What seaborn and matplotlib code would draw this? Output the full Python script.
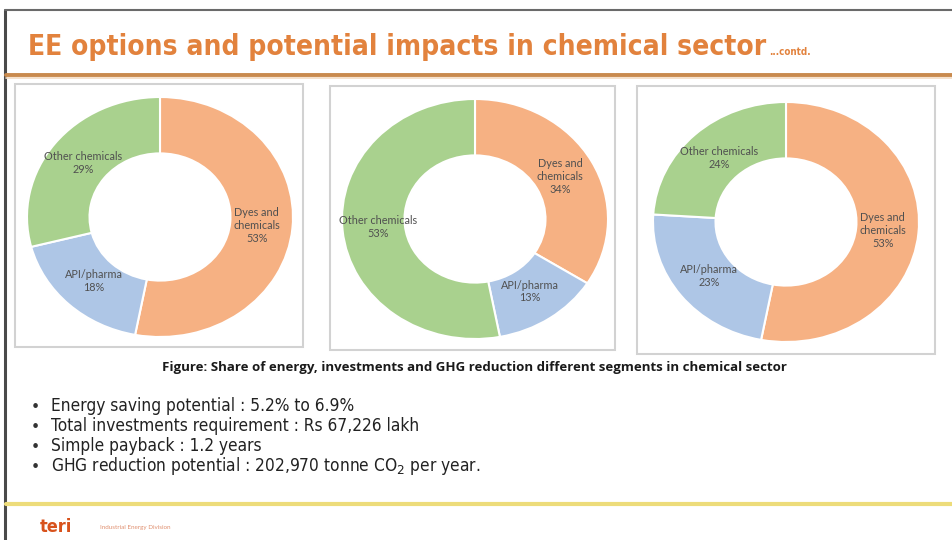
import matplotlib
matplotlib.use("Agg")
import matplotlib.pyplot as plt
import seaborn as sns
import numpy as np
from matplotlib.patches import Rectangle
from matplotlib import font_manager as fm

# ---- data ----
categories = ["Dyes and\nchemicals", "API/pharma", "Other chemicals"]
energy_share = [53, 18, 29]
investment_share = [34, 13, 53]
ghg_share = [53, 23, 24]
panel_values = [energy_share, investment_share, ghg_share]

title_text = "EE options and potential impacts in chemical sector"
title_suffix = "...contd."
caption_text = "Figure: Share of energy, investments and GHG reduction different segments in chemical sector"
bullets = [
    "Energy saving potential : 5.2% to 6.9%",
    "Total investments requirement : Rs 67,226 lakh",
    "Simple payback : 1.2 years",
    "GHG reduction potential : 202,970 tonne CO$_2$ per year.",
]
footer_logo = "teri"
footer_text = "Industrial Energy Division"

sns.set_theme(style="white")
plt.rcParams["font.family"] = ["Lato", "DejaVu Sans"]
palette = ["#F6B183", "#AEC6E6", "#A9D18E"]

W, H = 952, 540
fig = plt.figure(figsize=(W / 100, H / 100), dpi=100)
fig.patch.set_facecolor("white")


def find_condensed(weight):
    for fam in ["DejaVu Sans", "Noto Sans", "Liberation Sans Narrow"]:
        try:
            p = fm.findfont(fm.FontProperties(family=fam, stretch="condensed", weight=weight),
                            fallback_to_default=False)
            if "ondensed" in p or "arrow" in p:
                return p
        except Exception:
            pass
    return None


cond_bold = find_condensed("bold")
cond_reg = find_condensed("normal")


def frac(x0, y0, x1, y1):
    return [x0 / W, 1 - y1 / H, (x1 - x0) / W, (y1 - y0) / H]


bg = fig.add_axes([0, 0, 1, 1])
bg.set_xlim(0, W)
bg.set_ylim(H, 0)
bg.axis("off")


def fit(txt, target_w):
    fig.canvas.draw()
    w = txt.get_window_extent().width
    txt.set_fontsize(txt.get_fontsize() * target_w / w)


def props(path, fallback_family, weight):
    if path:
        return fm.FontProperties(fname=path)
    return fm.FontProperties(family=fallback_family, weight=weight)


# slide border
bg.plot([5, 5], [10, 540], color="#4a4a4a", lw=2.2)
bg.plot([5, 952], [10, 10], color="#6a6a6a", lw=1.5)
# title separator
bg.plot([6, 952], [75, 75], color="#C98A4E", lw=2.8)
bg.plot([6, 952], [78, 78], color="#F3DCC4", lw=1.2)
# footer line
bg.plot([6, 952], [504, 504], color="#EDDC7A", lw=3)

tp = props(cond_bold, "Roboto", "bold")
t = bg.text(28, 47, title_text, fontproperties=tp, color="#E2823D",
            va="center", ha="left")
t.set_fontsize(22)
fit(t, 732)
fig.canvas.draw()
bb = t.get_window_extent()
ts = bg.text(bb.x1 + 3, 57, title_suffix, fontproperties=tp, color="#E2823D",
             va="bottom", ha="left")
ts.set_fontsize(7)

# panels
panels = [(15, 84, 303, 347), (330, 86, 615, 350), (637, 86, 935, 354)]
for (x0, y0, x1, y1) in panels:
    bg.add_patch(Rectangle((x0, y0), x1 - x0, y1 - y0, fill=False,
                           edgecolor="#D2D2D2", lw=1.5))

centers = [(160, 217), (475, 219), (786, 222)]
rx, ry = 133, 120
for (cx, cy), vals in zip(centers, panel_values):
    ax = fig.add_axes(frac(cx - rx, cy - ry, cx + rx, cy + ry))
    wedges, _ = ax.pie(vals, colors=palette, startangle=90, counterclock=False,
                       radius=1.0,
                       wedgeprops=dict(width=0.47, edgecolor="white", linewidth=1.5))
    ax.set_aspect("auto")
    ax.set_xlim(-1, 1)
    ax.set_ylim(-1, 1)
    ax.axis("off")
    for w, name, v in zip(wedges, categories, vals):
        ang = np.deg2rad((w.theta1 + w.theta2) / 2)
        r = 0.73
        ax.text(r * np.cos(ang), r * np.sin(ang), f"{name}\n{v}%", ha="center",
                va="center", fontsize=7.8, color="#505050", linespacing=1.2)

# caption
cap = bg.text(474, 367, caption_text, fontsize=9, fontweight="bold", color="#1a1a1a",
              ha="center", va="center", family=["Open Sans", "DejaVu Sans"])
fit(cap, 622)

# bullets
bp = props(cond_reg, "Roboto", "normal")
ys = [406, 426, 446, 466]
bts = []
for y, b in zip(ys, bullets):
    bg.text(32, y, "\u2022", fontsize=9, color="#333333", ha="left", va="center")
    bt = bg.text(51, y, b, fontproperties=bp, color="#222222", ha="left", va="center")
    bt.set_fontsize(11)
    bts.append(bt)
fig.canvas.draw()
scale = 305 / bts[0].get_window_extent().width
for bt in bts:
    bt.set_fontsize(11 * scale)

# footer
lg = bg.text(40, 527, footer_logo, fontproperties=tp, color="#D8521C",
             ha="left", va="center")
lg.set_fontsize(13)
bg.text(100, 527, footer_text, fontsize=4.5, color="#E09070", ha="left", va="center")

fig.savefig("out.png", dpi=100)
